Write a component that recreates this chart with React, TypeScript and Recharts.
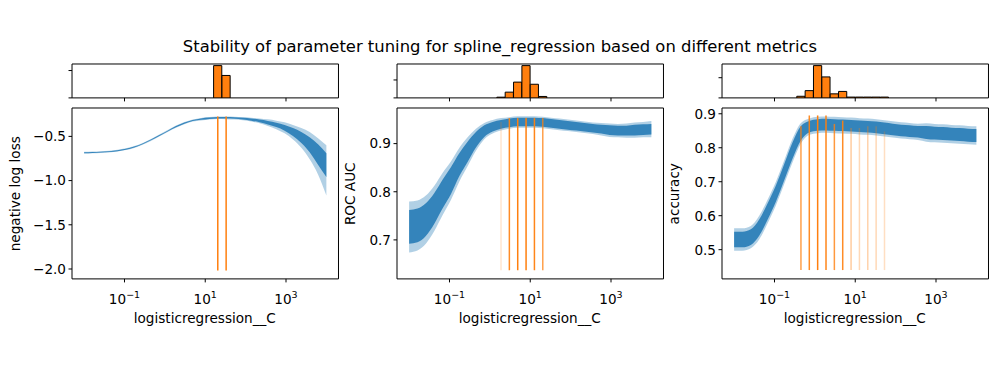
import React from "react";
import {
  ComposedChart,
  Area,
  Bar,
  XAxis,
  YAxis,
  ReferenceLine,
  ReferenceArea,
} from "recharts";

// grid of logisticregression__C values (30 log-spaced points, 1e-2 .. 1e4)
const cGrid = [
  0.01, 0.016103, 0.025929, 0.041753, 0.067234, 0.10826, 0.17434, 0.28072,
  0.45204, 0.72796, 1.1721, 1.8874, 3.0392, 4.8939, 7.8805, 12.69, 20.434,
  32.903, 52.983, 85.317, 137.38, 221.22, 356.23, 573.62, 923.67, 1487.4,
  2395.0, 3856.6, 6210.2, 10000,
];
const xTicks = [0.1, 10, 1000];

// negative log loss: spread of the bootstrap curves
const lossOuterHi = [-0.675, -0.672, -0.668, -0.662, -0.652, -0.635, -0.609, -0.574, -0.529, -0.479, -0.429, -0.378, -0.338, -0.308, -0.291, -0.281, -0.276, -0.275, -0.277, -0.282, -0.288, -0.297, -0.307, -0.322, -0.34, -0.37, -0.405, -0.45, -0.52, -0.6];
const lossOuterLo = [-0.695, -0.692, -0.688, -0.682, -0.672, -0.655, -0.631, -0.596, -0.551, -0.501, -0.451, -0.402, -0.362, -0.332, -0.319, -0.309, -0.304, -0.305, -0.309, -0.318, -0.332, -0.352, -0.382, -0.418, -0.465, -0.535, -0.63, -0.76, -0.93, -1.17];
const lossInnerHi = [-0.68, -0.677, -0.673, -0.667, -0.657, -0.64, -0.615, -0.58, -0.535, -0.485, -0.435, -0.384, -0.344, -0.314, -0.297, -0.287, -0.282, -0.282, -0.284, -0.29, -0.298, -0.31, -0.325, -0.345, -0.37, -0.405, -0.45, -0.51, -0.59, -0.69];
const lossInnerLo = [-0.69, -0.687, -0.683, -0.677, -0.667, -0.65, -0.625, -0.59, -0.545, -0.495, -0.445, -0.396, -0.356, -0.326, -0.313, -0.303, -0.298, -0.298, -0.302, -0.31, -0.322, -0.34, -0.365, -0.395, -0.435, -0.495, -0.575, -0.68, -0.82, -0.96];

// ROC AUC
const aucOuterHi = [0.78, 0.782, 0.792, 0.812, 0.839, 0.863, 0.891, 0.913, 0.931, 0.943, 0.949, 0.953, 0.955, 0.957, 0.957, 0.957, 0.956, 0.954, 0.952, 0.95, 0.948, 0.946, 0.944, 0.943, 0.942, 0.941, 0.942, 0.944, 0.945, 0.947];
const aucOuterLo = [0.674, 0.678, 0.692, 0.718, 0.751, 0.783, 0.821, 0.853, 0.885, 0.909, 0.921, 0.927, 0.931, 0.933, 0.933, 0.933, 0.932, 0.93, 0.928, 0.926, 0.924, 0.922, 0.92, 0.917, 0.914, 0.913, 0.912, 0.912, 0.913, 0.913];
const aucInnerHi = [0.762, 0.765, 0.776, 0.797, 0.825, 0.851, 0.88, 0.904, 0.924, 0.938, 0.945, 0.949, 0.952, 0.954, 0.954, 0.954, 0.953, 0.951, 0.949, 0.947, 0.945, 0.943, 0.941, 0.939, 0.938, 0.937, 0.937, 0.939, 0.94, 0.941];
const aucInnerLo = [0.692, 0.695, 0.708, 0.733, 0.765, 0.795, 0.832, 0.862, 0.892, 0.914, 0.925, 0.931, 0.934, 0.936, 0.936, 0.936, 0.935, 0.933, 0.931, 0.929, 0.927, 0.925, 0.923, 0.921, 0.918, 0.917, 0.917, 0.917, 0.918, 0.919];

// accuracy
const accOuterHi = [0.563, 0.563, 0.57, 0.6, 0.647, 0.7, 0.763, 0.827, 0.873, 0.886, 0.891, 0.892, 0.891, 0.89, 0.889, 0.887, 0.886, 0.884, 0.881, 0.878, 0.875, 0.873, 0.871, 0.872, 0.87, 0.869, 0.867, 0.866, 0.864, 0.863];
const accOuterLo = [0.497, 0.497, 0.504, 0.53, 0.577, 0.63, 0.693, 0.757, 0.813, 0.838, 0.843, 0.844, 0.843, 0.842, 0.841, 0.839, 0.838, 0.836, 0.833, 0.83, 0.827, 0.825, 0.823, 0.818, 0.816, 0.815, 0.813, 0.812, 0.81, 0.809];
const accInnerHi = [0.553, 0.553, 0.56, 0.589, 0.636, 0.689, 0.752, 0.816, 0.864, 0.879, 0.884, 0.885, 0.884, 0.883, 0.882, 0.88, 0.879, 0.877, 0.874, 0.871, 0.868, 0.866, 0.864, 0.864, 0.862, 0.861, 0.859, 0.858, 0.856, 0.855];
const accInnerLo = [0.507, 0.507, 0.514, 0.541, 0.588, 0.641, 0.704, 0.768, 0.822, 0.845, 0.85, 0.851, 0.85, 0.849, 0.848, 0.846, 0.845, 0.843, 0.84, 0.837, 0.834, 0.832, 0.83, 0.826, 0.824, 0.823, 0.821, 0.82, 0.818, 0.817];

// chosen C (index into cGrid), how often it was chosen, and the vline tops
const lossPicked = [16, 17];
const lossCounts = [59, 41];
const lossTops = [-0.274, -0.274];
const lossAlpha = [1, 1];

const aucPicked = [11, 12, 13, 14, 15, 16];
const aucCounts = [1, 8, 22, 45, 19, 2];
const aucTops = [0.945, 0.953, 0.953, 0.953, 0.953, 0.953];
const aucAlpha = [0.2, 0.9, 1, 1, 0.95, 0.75];

const accPicked = [8, 9, 10, 11, 12, 13, 14, 15, 16, 17, 18];
const accCounts = [2, 9, 40, 26, 5, 8, 1, 1, 1, 1, 1];
const accTops = [0.863, 0.895, 0.895, 0.895, 0.87, 0.88, 0.858, 0.858, 0.863, 0.863, 0.848];
const accAlpha = [0.75, 0.9, 1, 0.95, 0.8, 0.9, 0.4, 0.3, 0.35, 0.3, 0.25];

const BLUE = "#1f77b4";
const ORANGE = "#ff7f0e";
const FONT = "'DejaVu Sans', sans-serif";

const X_MIN = 0.0050119;
const X_MAX = 19952.6;
const PLOT_W = 266.5;
const AXIS_W = 70;
const PAD_R = 10;
const PAD_T = 10;
const MAIN_TOP = 108.3;
const MAIN_H = 170.9;
const XAXIS_H = 60;
const HIST_TOP = 63.8;
const HIST_H = 33.9;
const HIST_XH = 10;

type Panel = {
  left: number;
  yLabel: string;
  yLabelX: number;
  yDomain: [number, number];
  yTicks: number[];
  outerHi: number[];
  outerLo: number[];
  innerHi: number[];
  innerLo: number[];
  picked: number[];
  counts: number[];
  tops: number[];
  bottom: number;
  alphas: number[];
  histTicks: number[];
};

const panels: Panel[] = [
  {
    left: 71.5, yLabel: "negative log loss", yLabelX: 19.5,
    yDomain: [-2.112, -0.179], yTicks: [-2, -1.5, -1, -0.5],
    outerHi: lossOuterHi, outerLo: lossOuterLo, innerHi: lossInnerHi, innerLo: lossInnerLo,
    picked: lossPicked, counts: lossCounts, tops: lossTops, bottom: -2.016, alphas: lossAlpha,
    histTicks: [0, 50],
  },
  {
    left: 396.5, yLabel: "ROC AUC", yLabelX: 354.5,
    yDomain: [0.619, 0.974], yTicks: [0.7, 0.8, 0.9],
    outerHi: aucOuterHi, outerLo: aucOuterLo, innerHi: aucInnerHi, innerLo: aucInnerLo,
    picked: aucPicked, counts: aucCounts, tops: aucTops, bottom: 0.637, alphas: aucAlpha,
    histTicks: [0, 25],
  },
  {
    left: 721.5, yLabel: "accuracy", yLabelX: 679,
    yDomain: [0.414, 0.917], yTicks: [0.5, 0.6, 0.7, 0.8, 0.9],
    outerHi: accOuterHi, outerLo: accOuterLo, innerHi: accInnerHi, innerLo: accInnerLo,
    picked: accPicked, counts: accCounts, tops: accTops, bottom: 0.44, alphas: accAlpha,
    histTicks: [0, 25],
  },
];

const fmt = (v: number) => v.toFixed(1).replace("-", "\u2212");

const PowerTick = (props: any) => {
  const { x, y, payload } = props;
  const exp = Math.round(Math.log10(payload.value));
  const sup = exp < 0 ? "\u2212" + Math.abs(exp) : String(exp);
  return (
    <text x={x} y={y + 19.6} textAnchor="middle" fontFamily={FONT} fontSize={13.6} fill="#000">
      10
      <tspan dy={-6} fontSize={9.5}>
        {sup}
      </tspan>
    </text>
  );
};

// tick marks only, no label (histogram axes)
const NoLabel = () => <g />;

const MainPlot = ({ p }: { p: Panel }) => {
  const rows = cGrid.map((c, i) => ({
    C: c,
    outer: [p.outerLo[i], p.outerHi[i]],
    inner: [p.innerLo[i], p.innerHi[i]],
  }));
  return (
    <div style={{ position: "absolute", left: p.left - AXIS_W, top: MAIN_TOP - PAD_T }}>
      <ComposedChart
        width={AXIS_W + PLOT_W + PAD_R}
        height={PAD_T + MAIN_H + XAXIS_H}
        data={rows}
        margin={{ top: PAD_T, right: PAD_R, left: 0, bottom: 0 }}
      >
        <XAxis
          dataKey="C"
          type="number"
          scale="log"
          domain={[X_MIN, X_MAX]}
          allowDataOverflow
          ticks={xTicks}
          interval={0}
          tick={(t: any) => <PowerTick {...t} />}
          tickSize={3.5}
          tickMargin={2}
          axisLine={false}
          stroke="#000"
          height={XAXIS_H}
        />
        <YAxis
          type="number"
          domain={p.yDomain}
          allowDataOverflow
          ticks={p.yTicks}
          interval={0}
          tickFormatter={fmt}
          tick={{ fill: "#000", fontSize: 13.6, fontFamily: FONT }}
          tickSize={3.5}
          tickMargin={2.5}
          axisLine={false}
          stroke="#000"
          width={AXIS_W}
        />
        <Area
          dataKey="outer"
          type="monotone"
          stroke="none"
          fill={BLUE}
          fillOpacity={0.35}
          dot={false}
          activeDot={false}
          isAnimationActive={false}
        />
        <Area
          dataKey="inner"
          type="monotone"
          stroke="none"
          fill={BLUE}
          fillOpacity={0.85}
          dot={false}
          activeDot={false}
          isAnimationActive={false}
        />
        {p.picked.map((k, j) => (
          <ReferenceLine
            key={k}
            segment={[
              { x: cGrid[k], y: p.bottom },
              { x: cGrid[k], y: p.tops[j] },
            ]}
            stroke={ORANGE}
            strokeWidth={1.5}
            strokeOpacity={p.alphas[j]}
            ifOverflow="visible"
          />
        ))}
        <ReferenceArea
          x1={X_MIN}
          x2={X_MAX}
          y1={p.yDomain[0]}
          y2={p.yDomain[1]}
          fill="none"
          stroke="#000"
          strokeWidth={1}
          ifOverflow="visible"
        />
      </ComposedChart>
    </div>
  );
};

const HistPlot = ({ p }: { p: Panel }) => {
  const rows = p.picked.map((k, j) => ({ C: cGrid[k], n: p.counts[j] }));
  const top = Math.max(...p.counts) * 1.05;
  return (
    <div style={{ position: "absolute", left: p.left - AXIS_W, top: HIST_TOP - PAD_T }}>
      <ComposedChart
        width={AXIS_W + PLOT_W + PAD_R}
        height={PAD_T + HIST_H + HIST_XH}
        data={rows}
        margin={{ top: PAD_T, right: PAD_R, left: 0, bottom: 0 }}
      >
        <XAxis
          dataKey="C"
          type="number"
          scale="log"
          domain={[X_MIN, X_MAX]}
          allowDataOverflow
          ticks={xTicks}
          interval={0}
          tick={NoLabel}
          tickSize={3.5}
          axisLine={false}
          stroke="#000"
          height={HIST_XH}
        />
        <YAxis
          type="number"
          domain={[0, top]}
          allowDataOverflow
          ticks={p.histTicks}
          interval={0}
          tick={NoLabel}
          tickSize={3.5}
          axisLine={false}
          stroke="#000"
          width={AXIS_W}
        />
        <Bar
          dataKey="n"
          fill={ORANGE}
          stroke="#000"
          strokeWidth={1}
          barSize={8.2}
          isAnimationActive={false}
        />
        <ReferenceArea
          x1={X_MIN}
          x2={X_MAX}
          y1={0}
          y2={top}
          fill="none"
          stroke="#000"
          strokeWidth={1}
          ifOverflow="visible"
        />
      </ComposedChart>
    </div>
  );
};

export default function App() {
  return (
    <div
      style={{
        position: "absolute",
        left: 0,
        top: 0,
        width: 1000,
        height: 376,
        background: "#fff",
        overflow: "hidden",
      }}
    >
      {panels.map((p) => (
        <HistPlot key={"h" + p.yLabel} p={p} />
      ))}
      {panels.map((p) => (
        <MainPlot key={"m" + p.yLabel} p={p} />
      ))}
      <svg
        width={1000}
        height={376}
        style={{ position: "absolute", left: 0, top: 0, pointerEvents: "none" }}
      >
        <text x={500} y={52} textAnchor="middle" fontFamily={FONT} fontSize={16.4} fill="#000">
          Stability of parameter tuning for spline_regression based on different metrics
        </text>
        {panels.map((p) => (
          <g key={"l" + p.yLabel}>
            <text
              x={p.left + PLOT_W / 2}
              y={323}
              textAnchor="middle"
              fontFamily={FONT}
              fontSize={13.6}
              fill="#000"
            >
              logisticregression__C
            </text>
            <text
              x={p.yLabelX}
              y={MAIN_TOP + MAIN_H / 2}
              transform={`rotate(-90 ${p.yLabelX} ${MAIN_TOP + MAIN_H / 2})`}
              textAnchor="middle"
              fontFamily={FONT}
              fontSize={13.6}
              fill="#000"
            >
              {p.yLabel}
            </text>
          </g>
        ))}
      </svg>
    </div>
  );
}
